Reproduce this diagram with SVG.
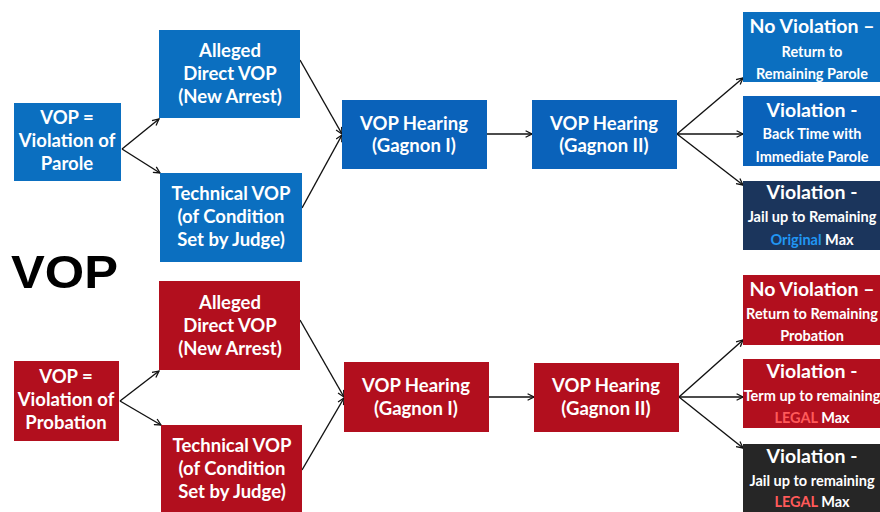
<svg xmlns="http://www.w3.org/2000/svg" width="880" height="512" viewBox="0 0 880 512">
<style>
.b{fill:#0b6fc0}
.b2{fill:#0a62ba}
.nv{fill:#1b355c}
.r{fill:#b20f1e}
.dk{fill:#262626}
text{font-family:Lato,"Noto Sans","Liberation Sans",sans-serif;font-weight:700;fill:#fff;text-anchor:middle}
.t{font-size:18.5px}
.h{font-size:19.5px}
.s{font-size:14.5px}
.big{font-family:"Liberation Sans",Arial,sans-serif;font-size:47px;font-weight:700;fill:#000;text-anchor:start}
.ob{fill:#2196f3}
.lg{fill:#ff5a5a}
.c line{stroke:#111;stroke-width:1.4;fill:none}
</style>
<defs>
<marker id="a" viewBox="0 0 10 10" refX="9" refY="5" markerWidth="8" markerHeight="8" markerUnits="userSpaceOnUse" orient="auto">
<path d="M1,1 L9,5 L1,9" fill="none" stroke="#111" stroke-width="1.6"/>
</marker>
</defs>
<rect width="880" height="512" fill="#fff"/>
<text class="big" x="11" y="288" textLength="107" lengthAdjust="spacingAndGlyphs">VOP</text>

<g class="c">
<line x1="122" y1="149" x2="159" y2="119" marker-end="url(#a)"/>
<line x1="122" y1="149" x2="160" y2="173" marker-end="url(#a)"/>
<line x1="300" y1="60" x2="342" y2="134" marker-end="url(#a)"/>
<line x1="302" y1="208" x2="342" y2="135" marker-end="url(#a)"/>
<line x1="487" y1="134" x2="532" y2="134" marker-end="url(#a)"/>
<line x1="677" y1="134" x2="743" y2="78" marker-end="url(#a)"/>
<line x1="677" y1="134" x2="743" y2="134" marker-end="url(#a)"/>
<line x1="677" y1="134" x2="743" y2="185" marker-end="url(#a)"/>
<line x1="120" y1="401" x2="159" y2="371" marker-end="url(#a)"/>
<line x1="120" y1="401" x2="161" y2="425" marker-end="url(#a)"/>
<line x1="300" y1="320" x2="344" y2="397" marker-end="url(#a)"/>
<line x1="302" y1="470" x2="344" y2="398" marker-end="url(#a)"/>
<line x1="489" y1="397" x2="534" y2="397" marker-end="url(#a)"/>
<line x1="679" y1="397" x2="743" y2="340" marker-end="url(#a)"/>
<line x1="679" y1="397" x2="743" y2="397" marker-end="url(#a)"/>
<line x1="679" y1="397" x2="743" y2="448" marker-end="url(#a)"/>
</g>

<g id="parole">
<rect class="b" x="14" y="103" width="107" height="78"/>
<text class="t" x="67" y="124">VOP =</text>
<text class="t" x="67" y="147">Violation of</text>
<text class="t" x="67" y="170">Parole</text>
</g>
<g id="p-direct">
<rect class="b" x="159" y="30" width="141" height="88"/>
<text class="t" x="230" y="57">Alleged</text>
<text class="t" x="230" y="80">Direct VOP</text>
<text class="t" x="230" y="103">(New Arrest)</text>
</g>
<g id="p-tech">
<rect class="b" x="160" y="173" width="142" height="89"/>
<text class="t" x="231" y="200">Technical VOP</text>
<text class="t" x="231" y="223">(of Condition</text>
<text class="t" x="231" y="246">Set by Judge)</text>
</g>
<g id="p-g1">
<rect class="b2" x="342" y="100" width="145" height="69"/>
<text class="t" x="414" y="130">VOP Hearing</text>
<text class="t" x="414" y="152">(Gagnon I)</text>
</g>
<g id="p-g2">
<rect class="b2" x="532" y="100" width="145" height="69"/>
<text class="t" x="604" y="130">VOP Hearing</text>
<text class="t" x="604" y="152">(Gagnon II)</text>
</g>
<g id="p-none">
<rect class="b" x="743" y="12" width="140" height="70"/>
<text class="h" x="812" y="33">No Violation –</text>
<text class="s" x="812" y="57">Return to</text>
<text class="s" x="812" y="79">Remaining Parole</text>
</g>
<g id="p-back">
<rect class="b2" x="743" y="96" width="140" height="70"/>
<text class="h" x="812" y="117">Violation -</text>
<text class="s" x="812" y="139">Back Time with</text>
<text class="s" x="812" y="162">Immediate Parole</text>
</g>
<g id="p-jail">
<rect class="nv" x="743" y="181" width="140" height="69"/>
<text class="h" x="812" y="199">Violation -</text>
<text class="s" x="812" y="222">Jail up to Remaining</text>
<text class="s" x="812" y="245"><tspan class="ob">Original</tspan> Max</text>
</g>

<g id="probation">
<rect class="r" x="14" y="361" width="105" height="80"/>
<text class="t" x="66" y="383">VOP =</text>
<text class="t" x="66" y="406">Violation of</text>
<text class="t" x="66" y="429">Probation</text>
</g>
<g id="b-direct">
<rect class="r" x="159" y="281" width="141" height="89"/>
<text class="t" x="230" y="309">Alleged</text>
<text class="t" x="230" y="332">Direct VOP</text>
<text class="t" x="230" y="355">(New Arrest)</text>
</g>
<g id="b-tech">
<rect class="r" x="161" y="425" width="141" height="90"/>
<text class="t" x="232" y="452">Technical VOP</text>
<text class="t" x="232" y="475">(of Condition</text>
<text class="t" x="232" y="498">Set by Judge)</text>
</g>
<g id="b-g1">
<rect class="r" x="344" y="362" width="145" height="70"/>
<text class="t" x="416" y="392">VOP Hearing</text>
<text class="t" x="416" y="415">(Gagnon I)</text>
</g>
<g id="b-g2">
<rect class="r" x="534" y="363" width="145" height="69"/>
<text class="t" x="606" y="392">VOP Hearing</text>
<text class="t" x="606" y="415">(Gagnon II)</text>
</g>
<g id="b-none">
<rect class="r" x="743" y="275" width="140" height="70"/>
<text class="h" x="812" y="296">No Violation –</text>
<text class="s" x="812" y="319">Return to Remaining</text>
<text class="s" x="812" y="341">Probation</text>
</g>
<g id="b-term">
<rect class="r" x="743" y="359" width="140" height="69"/>
<text class="h" x="812" y="378">Violation -</text>
<text class="s" x="812" y="401">Term up to remaining</text>
<text class="s" x="812" y="423"><tspan class="lg">LEGAL</tspan> Max</text>
</g>
<g id="b-jail">
<rect class="dk" x="743" y="444" width="140" height="70"/>
<text class="h" x="812" y="463">Violation -</text>
<text class="s" x="812" y="486">Jail up to remaining</text>
<text class="s" x="812" y="507"><tspan class="lg">LEGAL</tspan> Max</text>
</g>
</svg>
